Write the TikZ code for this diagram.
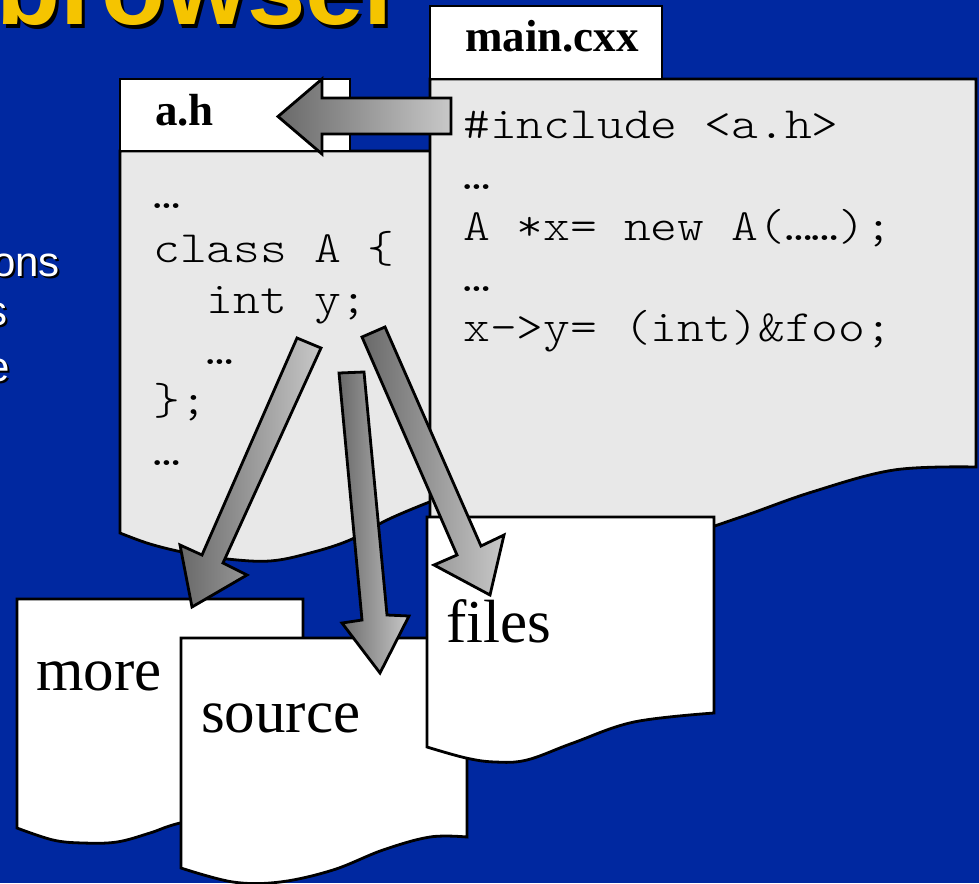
\documentclass[tikz,border=0pt]{standalone}
\usepackage{fontspec}
\setmainfont{Liberation Serif}
\newfontfamily\monofnt[FakeStretch=1.143]{lmmonolt10-regular.otf}
\newfontfamily\sansfnt{Liberation Sans}
\definecolor{slideblue}{RGB}{0,40,160}
\definecolor{titleyellow}{RGB}{245,196,0}
\definecolor{docgray}{RGB}{232,232,232}
\definecolor{arrowdark}{RGB}{105,105,105}
\definecolor{arrowlight}{RGB}{200,200,200}
\tikzset{
  docline/.style={draw=black, line width=2.8pt, line join=miter},
  graydoc/.style={docline, fill=docgray},
  whitedoc/.style={docline, fill=white},
  blockarrow/.style={draw=black, line width=2.8pt, line join=miter, left color=arrowdark, right color=arrowlight},
  codetext/.style={anchor=base west, inner sep=0pt, font=\monofnt\fontsize{44.7}{50}\selectfont},
  tabtext/.style={anchor=base west, inner sep=0pt, font=\bfseries\fontsize{45}{50}\selectfont},
  doctext/.style={anchor=base west, inner sep=0pt, font=\fontsize{61}{66}\selectfont},
  bullettext/.style={anchor=base east, inner sep=0pt, font=\sansfnt\fontsize{42}{48}\selectfont},
  titletext/.style={anchor=base west, inner sep=0pt, font=\sansfnt\bfseries\fontsize{105}{110}\selectfont},
}
\begin{document}
\begin{tikzpicture}[x=1pt,y=-1pt]
\useasboundingbox (0,0) rectangle (979,883);
\clip (0,0) rectangle (979,883);
\fill[slideblue] (0,0) rectangle (979,883);

% title (cut off at top)
\node[titletext, text=black] (titleshadow) at (-1,29) {browser};
\node[titletext, text=titleyellow] (title) at (-4,25) {browser};

% fragments of bullet text at the left edge
\node[bullettext, text=black] (b1s) at (62,278) {ons};
\node[bullettext, text=white] (b1) at (60,276) {ons};
\node[bullettext, text=black] (b2s) at (10,327) {s};
\node[bullettext, text=white] (b2) at (8,325) {s};
\node[bullettext, text=black] (b3s) at (12,383) {e};
\node[bullettext, text=white] (b3) at (10,381) {e};

% a.h document
\draw[graydoc] (120,151) -- (445,151) -- (445,497)
  -- plot[smooth, tension=0.6] coordinates {(445,497) (427,503) (387,520) (350,540) (310,553) (270,561) (227,559) (187,553) (150,544) (120,533)} -- cycle;
\draw[whitedoc] (120,79) rectangle (350,151);
\node[tabtext] (ahlabel) at (155,125) {a.h};
\node[codetext] (ah1) at (153,208) {…};
\node[codetext] (ah2) at (153,262) {class A \{};
\node[codetext] (ah3) at (206.6,313) {int y;};
\node[codetext] (ah4) at (206.6,364) {…};
\node[codetext] (ah5) at (153,414) {\};};
\node[codetext] (ah6) at (153,465) {…};

% main.cxx document
\draw[graydoc] (430,79) -- (976,79) -- (976,467)
  -- plot[smooth, tension=0.6] coordinates {(976,467) (894,470) (812,492) (741,517) (680,536) (600,550) (520,552) (430,540)} -- cycle;
\draw[whitedoc] (430,6) rectangle (662,79);
\node[tabtext] (mainlabel) at (465,52) {main.cxx};
\node[codetext] (m1) at (463,138) {\#include <a.h>};
\node[codetext] (m2) at (463,189) {…};
\node[codetext] (m3) at (463,240) {A *x= new A(……);};
\node[codetext] (m4) at (463,291) {…};
\node[codetext] (m5) at (463,341) {x->y= (int)\&foo;};

% more / source / files documents
\draw[whitedoc] (17,599) -- (303,599) -- (303,800)
  -- plot[smooth, tension=0.6] coordinates {(303,800) (250,808) (180,823) (150,833) (117,842) (83,843) (53,840) (17,828)} -- cycle;
\node[doctext] (more) at (36,690) {more};
\draw[whitedoc] (181,638) -- (467,638) -- (467,837)
  -- plot[smooth, tension=0.6] coordinates {(467,837) (430,837) (383,850) (333,870) (280,882) (233,882) (181,868)} -- cycle;
\node[doctext] (source) at (201,732) {source};
\draw[whitedoc] (427,517) -- (714,517) -- (714,713)
  -- plot[smooth, tension=0.6] coordinates {(714,713) (634,722) (573,743) (527,760) (495,762) (466,758) (427,747)} -- cycle;
\node[doctext] (files) at (446,642) {files};

% block arrows
\path[blockarrow] (451,98) -- (322,98) -- (322,79) -- (278,116.5) -- (322,154) -- (322,134) -- (451,134) -- cycle;
\path[blockarrow] (297,338) -- (202,555) -- (180,545) -- (192,607) -- (247,575) -- (223,563) -- (321,348) -- cycle;
\path[blockarrow] (339,373) -- (362,620) -- (342,623) -- (380,673) -- (409,616) -- (387,615) -- (364,372) -- cycle;
\path[blockarrow] (362,337) -- (457,555) -- (434,565) -- (490,595) -- (504,535) -- (481,546) -- (385,327) -- cycle;
\end{tikzpicture}
\end{document}
